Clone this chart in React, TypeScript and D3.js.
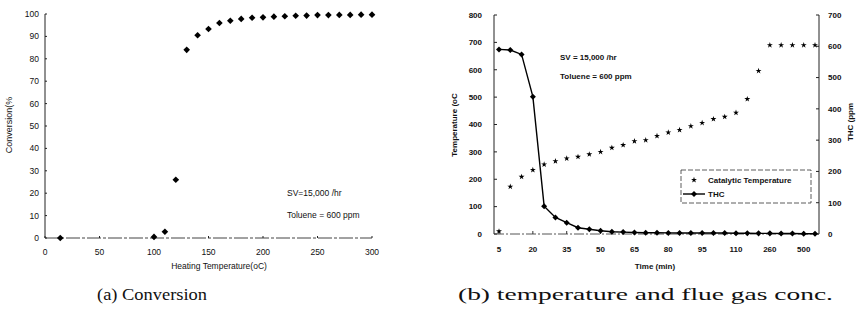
import React from 'react';
import * as d3 from 'd3';

// (a) conversion vs heating temperature
const heatTemps = [14, 100, 110, 120, 130, 140, 150, 160, 170, 180, 190, 200, 210, 220, 230, 240, 250, 260, 270, 280, 290, 300];
const conversion = [0, 0.5, 2.8, 26, 84, 90.5, 93.3, 96, 97, 97.8, 98.3, 98.5, 98.8, 99, 99.2, 99.3, 99.5, 99.5, 99.6, 99.6, 99.7, 99.7];
const convYTicks = [0, 10, 20, 30, 40, 50, 60, 70, 80, 90, 100];
const convXTicks = [0, 50, 100, 150, 200, 250, 300];

// (b) temperature and THC vs time
const timeCats = ['5', '10', '15', '20', '25', '30', '35', '40', '45', '50', '55', '60', '65', '70', '75', '80', '85', '90', '95', '100', '105', '110', '115', '120', '260', '340', '420', '500', '580'];
const timeTickLabels = ['5', '20', '35', '50', '65', '80', '95', '110', '260', '500'];
const catalyticTemp = [10, 173, 209, 234, 254, 266, 276, 282, 291, 300, 315, 325, 339, 343, 358, 371, 380, 394, 406, 420, 428, 443, 493, 596, 690, 690, 690, 690, 690];
const thc = [590, 588, 574, 439, 89, 53, 36, 20, 15, 10.5, 7, 6, 5, 4, 4, 3.5, 3, 3, 3, 3, 3, 2.5, 2.5, 2, 2, 1.5, 1.5, 1, 1];
const tempTicks = [0, 100, 200, 300, 400, 500, 600, 700, 800];
const thcTicks = [0, 100, 200, 300, 400, 500, 600, 700];

const sans = "'Liberation Sans', Arial, sans-serif";

function ConversionChart() {
  const x = d3.scaleLinear().domain([0, 300]).range([45, 372]);
  const y = d3.scaleLinear().domain([0, 100]).range([238, 14]);
  const marker = d3.symbol().type(d3.symbolSquare).size(22)();
  return (
    <g fontFamily={sans} fontSize={8.5} fill="#111">
      {/* axes */}
      <line x1={x(0)} x2={x(0)} y1={y(100)} y2={y(0)} stroke="#222" strokeWidth={1} />
      <line x1={x(0)} x2={x(300)} y1={y(0)} y2={y(0)} stroke="#444" strokeWidth={1} strokeDasharray="14,2,3,2" />
      {convYTicks.map(t => (
        <g key={'y' + t}>
          <line x1={x(0)} x2={x(0) + 2} y1={y(t)} y2={y(t)} stroke="#222" />
          <text x={x(0) - 6} y={y(t)} dy="0.35em" textAnchor="end">{t}</text>
        </g>
      ))}
      {convXTicks.map(t => (
        <g key={'x' + t}>
          <line x1={x(t)} x2={x(t)} y1={y(0)} y2={y(0) - 2} stroke="#222" />
          <text x={x(t)} y={y(0) + 17} textAnchor="middle">{t}</text>
        </g>
      ))}
      <text x={219} y={269} textAnchor="middle" fontSize={8.5}>Heating Temperature(oC)</text>
      <text transform="translate(12,125) rotate(-90)" textAnchor="middle" fontSize={9}>Conversion(%</text>
      <text x={287} y={196} fontSize={8.5}>SV=15,000 /hr</text>
      <text x={287} y={218} fontSize={8.5}>Toluene = 600 ppm</text>
      {heatTemps.map((t, i) => (
        <path key={i} d={marker} transform={`translate(${x(t)},${y(conversion[i])}) rotate(45)`} fill="#000" />
      ))}
    </g>
  );
}

function TimeChart() {
  const x = d3.scalePoint().domain(timeCats).range([499, 815]);
  const yL = d3.scaleLinear().domain([0, 800]).range([234, 15]);
  const yR = d3.scaleLinear().domain([0, 700]).range([234, 15]);
  const xLeft = 494;
  const xRight = 819;
  const star = d3.symbol().type(d3.symbolStar).size(11)();
  const marker = d3.symbol().type(d3.symbolSquare).size(18)();
  const line = d3.line<number>()
    .x((d, i) => x(timeCats[i]) as number)
    .y(d => yR(d));
  const tickIdx = timeCats.map((c, i) => i).filter(i => timeTickLabels.includes(timeCats[i]));
  return (
    <g fontFamily={sans} fontSize={8} fontWeight="bold" fill="#111">
      <line x1={xLeft} x2={xLeft} y1={15} y2={234} stroke="#222" />
      <line x1={xRight} x2={xRight} y1={15} y2={234} stroke="#222" />
      <line x1={xLeft} x2={xRight} y1={234} y2={234} stroke="#555" strokeDasharray="10,2,2,2" />
      {tempTicks.map(t => (
        <g key={'l' + t}>
          <line x1={xLeft} x2={xLeft + 3} y1={yL(t)} y2={yL(t)} stroke="#222" />
          <text x={xLeft - 12} y={yL(t)} dy="0.35em" textAnchor="end">{t}</text>
        </g>
      ))}
      {thcTicks.map(t => (
        <g key={'r' + t}>
          <line x1={xRight - 3} x2={xRight} y1={yR(t)} y2={yR(t)} stroke="#222" />
          <text x={xRight + 9} y={yR(t)} dy="0.35em" textAnchor="start">{t}</text>
        </g>
      ))}
      {tickIdx.map(i => (
        <g key={'t' + i}>
          <line x1={x(timeCats[i])} x2={x(timeCats[i])} y1={234} y2={231} stroke="#333" />
          <text x={x(timeCats[i])} y={252} textAnchor="middle">{timeCats[i]}</text>
        </g>
      ))}
      <text x={655} y={269} textAnchor="middle">Time (min)</text>
      <text transform="translate(457,125) rotate(-90)" textAnchor="middle">Temperature (oC</text>
      <text transform="translate(853,122) rotate(-90)" textAnchor="middle">THC (ppm</text>
      <text x={560} y={60}>SV = 15,000 /hr</text>
      <text x={560} y={79}>Toluene = 600 ppm</text>

      {catalyticTemp.map((v, i) => (
        <path key={'c' + i} d={star} transform={`translate(${x(timeCats[i])},${yL(v)})`} fill="#000" />
      ))}
      <path d={line(thc) || ''} fill="none" stroke="#000" strokeWidth={1.4} />
      {thc.map((v, i) => (
        <path key={'h' + i} d={marker} transform={`translate(${x(timeCats[i])},${yR(v)}) rotate(45)`} fill="#000" />
      ))}

      {/* legend */}
      <rect x={681} y={170} width={130} height={33} fill="#fff" stroke="#333" strokeWidth={0.8} strokeDasharray="5,2" />
      <path d={star} transform="translate(694,180)" fill="#000" />
      <text x={708} y={180} dy="0.35em">Catalytic Temperature</text>
      <line x1={683} x2={705} y1={194} y2={194} stroke="#000" strokeWidth={1.4} />
      <path d={marker} transform="translate(694,194) rotate(45)" fill="#000" />
      <text x={708} y={194} dy="0.35em">THC</text>
    </g>
  );
}

export default function App() {
  return (
    <svg width={857} height={331} style={{ position: 'absolute', left: 0, top: 0, background: '#fff' }}>
      <rect width={857} height={331} fill="#fff" />
      <ConversionChart />
      <TimeChart />
      <g fontFamily="'Liberation Serif', 'Times New Roman', serif" fontSize={17} fill="#111">
        <text x={97} y={300} textLength={110} lengthAdjust="spacingAndGlyphs">(a) Conversion</text>
        <text x={458} y={300} textLength={375} lengthAdjust="spacingAndGlyphs">(b) temperature and flue gas conc.</text>
      </g>
    </svg>
  );
}
